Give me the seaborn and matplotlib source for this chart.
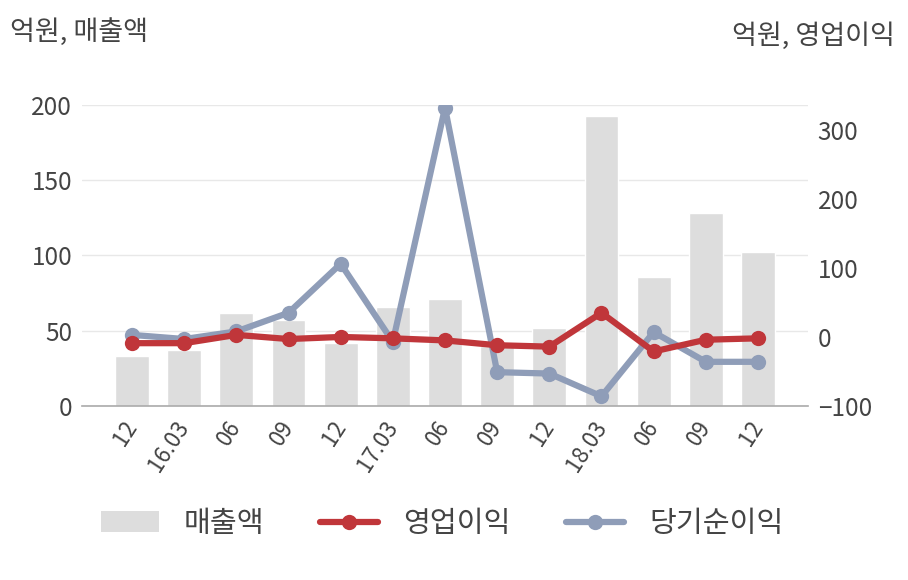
import matplotlib
matplotlib.use("Agg")
import matplotlib.pyplot as plt
import seaborn as sns
import pandas as pd
from matplotlib.patches import Patch
from matplotlib.lines import Line2D

# ---- data ----
periods = ["12", "16.03", "06", "09", "12", "17.03", "06", "09", "12", "18.03", "06", "09", "12"]
sales = [33, 37, 62, 57, 42, 66, 71, 40, 52, 193, 86, 128, 102]          # 매출액 (left axis)
op_profit = [-9, -9, 3, -3, 0, -2, -5, -12, -14, 35, -21, -4, -2]        # 영업이익 (right axis)
net_profit = [3, -3, 8, 35, 106, -7, 332, -51, -53, -86, 7, -36, -36]    # 당기순이익 (right axis)
left_ticks = [0, 50, 100, 150, 200]
right_ticks = [-100, 0, 100, 200, 300]

sns.set_theme(style="white")
plt.rcParams["font.family"] = ["Noto Sans CJK KR", "DejaVu Sans"]

BAR = "#dddddd"
RED = "#c0363a"
BLUE = "#8f9db8"
TXT = "#444444"

df = pd.DataFrame({"pos": list(range(len(periods))), "sales": sales,
                   "op": op_profit, "net": net_profit})

fig = plt.figure(figsize=(9.08, 5.80), dpi=100)
ax = fig.add_axes([0.0903, 0.30, 0.7996, 0.519])

sns.barplot(data=df, x="pos", y="sales", color=BAR, width=0.65, ax=ax,
            saturation=1, zorder=2)
ax.set_ylim(0, 200)
ax.set_yticks(left_ticks)
ax.set_xlim(-0.96, 12.96)
ax.grid(axis="y", color="#e8e8e8", linewidth=1, zorder=0)
ax.set_axisbelow(True)
ax.set_xlabel("")
ax.set_ylabel("")
ax.set_xticks(range(len(periods)))
ax.set_xticklabels(periods, rotation=57, ha="right", va="center",
                   rotation_mode="anchor")
ax.tick_params(axis="x", labelsize=16, colors=TXT, length=0, pad=12)
ax.tick_params(axis="y", labelsize=17.5, colors=TXT, length=0, pad=7)
for s in ["top", "right", "left"]:
    ax.spines[s].set_visible(False)
ax.spines["bottom"].set_color("#aaaaaa")
ax.spines["bottom"].set_linewidth(1.2)

ax2 = ax.twinx()
sns.lineplot(data=df, x="pos", y="net", color=BLUE, linewidth=4.5, marker="o",
             markersize=11, markeredgewidth=0, ax=ax2, zorder=3)
sns.lineplot(data=df, x="pos", y="op", color=RED, linewidth=4.5, marker="o",
             markersize=11, markeredgewidth=0, ax=ax2, zorder=4)
ax2.set_ylim(-100, 336)
ax2.set_yticks(right_ticks)
ax2.set_ylabel("")
ax2.set_xlabel("")
ax2.set_xlim(-0.96, 12.96)
ax2.tick_params(axis="y", labelsize=17.5, colors=TXT, length=0, pad=7)
for s in ["top", "right", "left", "bottom"]:
    ax2.spines[s].set_visible(False)
ax2.grid(False)

fig.text(0.011, 0.945, "억원, 매출액", fontsize=19.5, color=TXT, ha="left", va="center")
fig.text(0.986, 0.938, "억원, 영업이익", fontsize=19.5, color=TXT, ha="right", va="center")

handles = [
    Patch(facecolor=BAR, edgecolor="none"),
    Line2D([0], [0], color=RED, linewidth=4.5, marker="o", markersize=11, markeredgewidth=0),
    Line2D([0], [0], color=BLUE, linewidth=4.5, marker="o", markersize=11, markeredgewidth=0),
]
leg = fig.legend(handles, ["매출액", "영업이익", "당기순이익"], loc="center",
                 bbox_to_anchor=(0.487, 0.097), ncol=3, frameon=False,
                 fontsize=21, handlelength=2.0, handleheight=0.7,
                 handletextpad=0.85, columnspacing=1.9)
for t in leg.get_texts():
    t.set_color(TXT)

fig.savefig("out.png", dpi=100)
